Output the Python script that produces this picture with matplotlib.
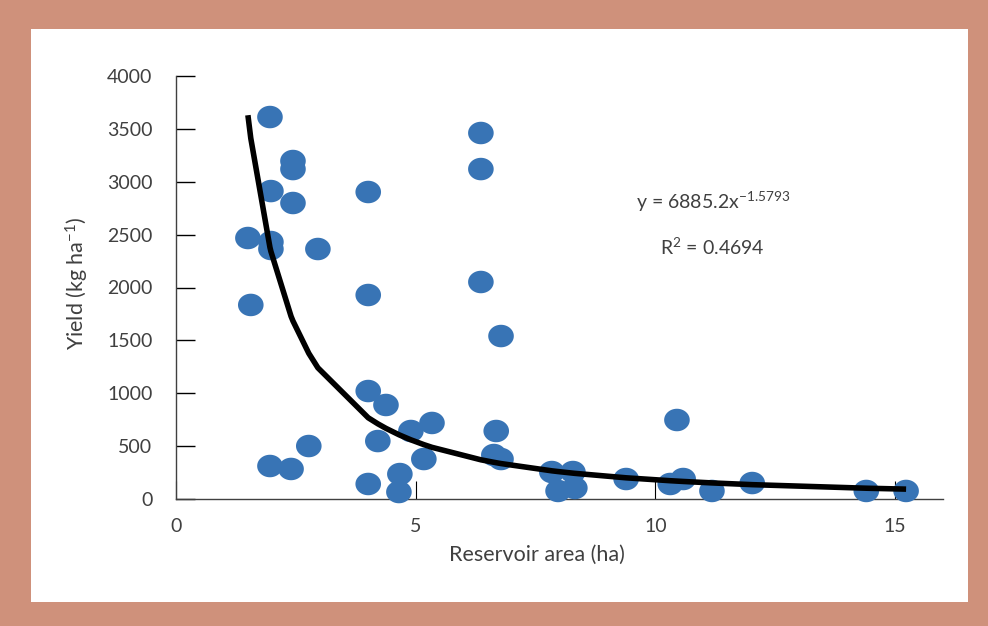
import numpy as np
import matplotlib
matplotlib.use("Agg")
import matplotlib.pyplot as plt
from matplotlib.path import Path
from matplotlib.patches import Rectangle

plt.rcParams['font.family'] = ['Lato', 'DejaVu Sans']
plt.rcParams['mathtext.fontset'] = 'custom'
plt.rcParams['mathtext.rm'] = 'Lato'
plt.rcParams['mathtext.it'] = 'Lato'
plt.rcParams['mathtext.default'] = 'regular'

# Data
area = [1.96, 1.98, 2.44, 2.44, 2.44, 1.50, 1.98, 1.98, 2.96, 1.56,
        4.01, 4.01, 4.01, 4.38, 4.21, 4.01, 1.96, 2.40, 2.77, 4.67,
        4.65, 4.90, 5.17, 5.34, 6.36, 6.36, 6.36, 6.78, 6.68, 6.63,
        6.78, 7.84, 7.97, 8.28, 8.32, 9.39, 10.31, 10.58, 10.45, 11.18,
        12.02, 14.40, 15.23]
yield_kg = [3612, 2912, 3196, 3120, 2799, 2468, 2430, 2364, 2364, 1835,
            2903, 1929, 1021, 889, 548, 142, 312, 284, 501, 236,
            66, 643, 378, 719, 3461, 3120, 2052, 1541, 643, 416,
            378, 255, 76, 255, 104, 189, 142, 189, 747, 76,
            151, 76, 76]
coef_a = 6885.2
coef_b = -1.5793
r2 = 0.4694
xticks = [0, 5, 10, 15]
yticks = list(range(0, 4001, 500))

W, H = 988, 626
fig = plt.figure(figsize=(W / 100, H / 100), dpi=100)
fig.patch.set_facecolor('#CF917B')
fig.patches.append(Rectangle((31 / W, 1 - 602 / H), (968 - 31) / W, (602 - 29) / H,
                             transform=fig.transFigure, facecolor='white',
                             edgecolor='none', zorder=-5))

ax = fig.add_axes([176 / W, 1 - 499 / H, (943 - 176) / W, (499 - 76) / H])
ax.set_zorder(2)
ax.set_facecolor('none')
ax.set_xlim(0, 16)
ax.set_ylim(0, 4000)

# ellipse marker
t = np.linspace(0, 2 * np.pi, 60)
ell = Path(np.column_stack([np.cos(t), 0.88 * np.sin(t)]), closed=True)
ax.scatter(area, yield_kg, marker=ell, s=340, color='#3874B5', edgecolors='none',
           zorder=3, clip_on=False)

xs = np.sort(np.array(area))
ax.plot(xs, coef_a * xs ** coef_b, color='black', lw=4.0, zorder=4,
        solid_capstyle='butt', clip_on=False)

for s in ['top', 'right']:
    ax.spines[s].set_visible(False)
for s in ['left', 'bottom']:
    ax.spines[s].set_color('#404040')
    ax.spines[s].set_linewidth(1.0)

ax.set_xticks(xticks)
ax.set_yticks(yticks)
ax.tick_params(axis='y', direction='in', length=14, width=1.0, color='black',
               pad=17, labelsize=14, labelcolor='#404040')
ax.tick_params(axis='x', direction='in', length=13, width=0.8, color='black',
               pad=14, labelsize=14, labelcolor='#404040')

fig.text(77 / W, 1 - 283 / H, 'Yield (kg ha$^{-1}$)', rotation=90, ha='center',
         va='center', fontsize=15.5, color='#404040')
fig.text(537 / W, 1 - 555 / H, 'Reservoir area (ha)', ha='center', va='center',
         fontsize=15.5, color='#404040')
fig.text(713 / W, 1 - 202 / H, 'y = %.1fx$^{%.4f}$' % (coef_a, coef_b), ha='center',
         va='center', fontsize=14, color='#404040')
fig.text(712 / W, 1 - 247 / H, 'R$^{2}$ = %.4f' % r2, ha='center', va='center',
         fontsize=14, color='#404040')

fig.savefig('out.png', dpi=100, facecolor=fig.get_facecolor())
